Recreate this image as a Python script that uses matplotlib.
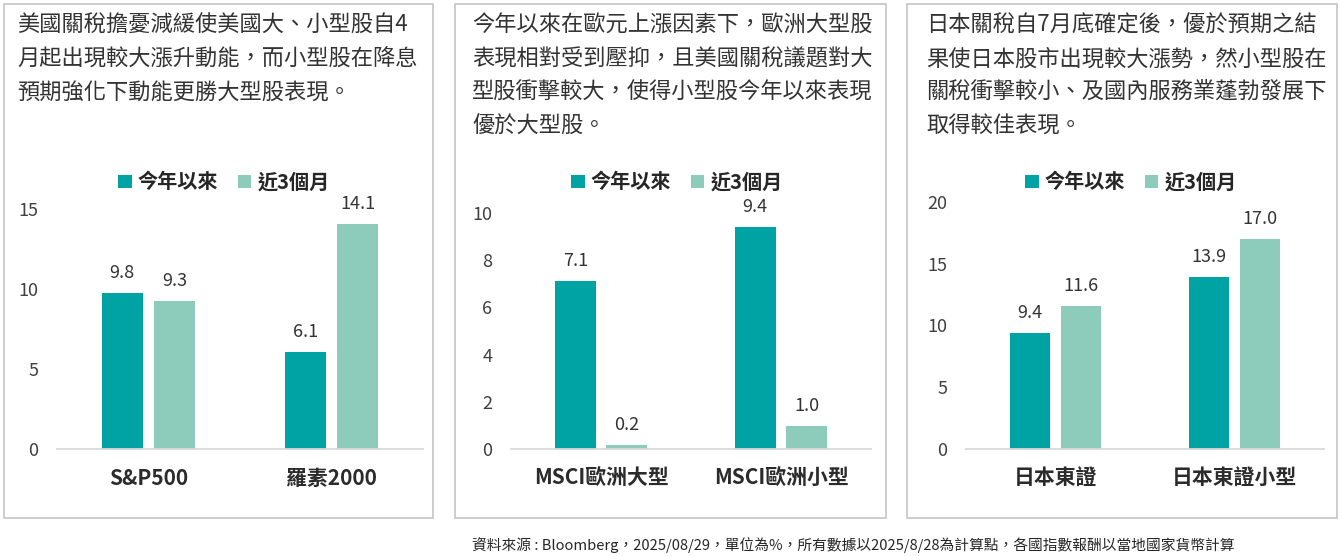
import matplotlib.pyplot as plt
from matplotlib.patches import Rectangle

plt.rcParams['font.family'] = ['Noto Sans CJK TC', 'DejaVu Sans']

# ---- data ----
series_names = ['今年以來', '近3個月']

us_cats = ['S&P500', '羅素2000']
us_ytd = [9.8, 6.1]
us_3m = [9.3, 14.1]

eu_cats = ['MSCI歐洲大型', 'MSCI歐洲小型']
eu_ytd = [7.1, 9.4]
eu_3m = [0.2, 1.0]

jp_cats = ['日本東證', '日本東證小型']
jp_ytd = [9.4, 13.9]
jp_3m = [11.6, 17.0]

us_text = ['美國關稅擔憂減緩使美國大、小型股自4',
           '月起出現較大漲升動能，而小型股在降息',
           '預期強化下動能更勝大型股表現。']
eu_text = ['今年以來在歐元上漲因素下，歐洲大型股',
           '表現相對受到壓抑，且美國關稅議題對大',
           '型股衝擊較大，使得小型股今年以來表現',
           '優於大型股。']
jp_text = ['日本關稅自7月底確定後，優於預期之結',
           '果使日本股市出現較大漲勢，然小型股在',
           '關稅衝擊較小、及國內服務業蓬勃發展下',
           '取得較佳表現。']

footer = '資料來源 : Bloomberg，2025/08/29，單位為%，所有數據以2025/8/28為計算點，各國指數報酬以當地國家貨幣計算'

C_YTD = '#00A3A3'
C_3M = '#8DCBBB'

W, H = 1341, 556
fig = plt.figure(figsize=(W / 100, H / 100), dpi=100)

def fx(px):
    return px / W

def fy(py):
    return 1 - py / H

# panel box (left, right), plot area (left, right, top px), y-ticks, text x, legend center x
panels = [
    dict(box=(4, 433), plot=(57, 423, 209.3), ticks=[0, 5, 10, 15], tx=17, lx=224,
         cats=us_cats, a=us_ytd, b=us_3m, text=us_text),
    dict(box=(455, 886), plot=(511, 871, 212.7), ticks=[0, 2, 4, 6, 8, 10], tx=472, lx=677,
         cats=eu_cats, a=eu_ytd, b=eu_3m, text=eu_text),
    dict(box=(907, 1337), plot=(966, 1324, 201.7), ticks=[0, 5, 10, 15, 20], tx=926, lx=1131,
         cats=jp_cats, a=jp_ytd, b=jp_3m, text=jp_text),
]

base_px = 449.3
bw = 0.225
off = 0.143

for p in panels:
    bl, br = p['box']
    fig.patches.append(Rectangle((fx(bl), fy(518)), fx(br - bl), (518 - 4) / H,
                                 transform=fig.transFigure, fill=False,
                                 edgecolor='#C9C9C9', linewidth=1.3))
    for i, line in enumerate(p['text']):
        fig.text(fx(p['tx']), fy(25 + i * 33.8), line, fontsize=16, color='#333333',
                 ha='left', va='center')

    l, r, t = p['plot']
    ax = fig.add_axes([fx(l), fy(base_px), fx(r - l), (base_px - t) / H])
    x = range(len(p['cats']))
    b1 = ax.bar([i - off for i in x], p['a'], width=bw, color=C_YTD, label=series_names[0])
    b2 = ax.bar([i + off for i in x], p['b'], width=bw, color=C_3M, label=series_names[1])
    for bars in (b1, b2):
        for rect in bars:
            v = rect.get_height()
            ax.annotate(f'{v:.1f}', (rect.get_x() + rect.get_width() / 2, v),
                        xytext=(0, 14.4), textcoords='offset points', ha='center',
                        va='center', fontsize=13, color='#333333', annotation_clip=False)
    ax.set_xlim(-0.5, len(p['cats']) - 0.5)
    ax.set_ylim(0, p['ticks'][-1])
    ax.set_yticks(p['ticks'])
    ax.set_xticks(list(x))
    ax.set_xticklabels(p['cats'], fontsize=15, fontweight='bold', color='#2b2b2b')
    ax.tick_params(axis='y', length=0, pad=13.5, labelsize=13, labelcolor='#404040')
    ax.tick_params(axis='x', length=0, pad=13.5)
    for s in ('top', 'right', 'left'):
        ax.spines[s].set_visible(False)
    ax.spines['bottom'].set_color('#D9D9D9')
    ax.spines['bottom'].set_linewidth(1.3)
    ax.patch.set_alpha(0)

    leg = ax.legend(loc='center', bbox_to_anchor=(fx(p['lx']), fy(182)),
                    bbox_transform=fig.transFigure, ncol=2, frameon=False,
                    prop=dict(size=14.5, weight='bold'), handlelength=0.65,
                    handleheight=0.65, handletextpad=0.3, columnspacing=1.0,
                    borderpad=0, borderaxespad=0)
    for txt in leg.get_texts():
        txt.set_color('#262626')

fig.text(fx(472), fy(545), footer, fontsize=10.6, color='#262626', ha='left', va='center')

fig.savefig('out.png', dpi=100)
